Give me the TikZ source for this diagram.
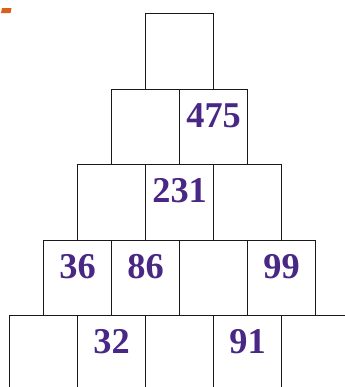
\documentclass[tikz,border=0pt]{standalone}
\usepackage{xcolor}
\usepackage{fontspec}
\setmainfont{Liberation Serif}
\usepackage{tikz}
\usetikzlibrary{calc}

\definecolor{numpurple}{RGB}{72,40,132}
\definecolor{markorange}{RGB}{214,96,28}

\begin{document}
\begin{tikzpicture}[
  x=0.03cm, y=-0.03cm,
  cell/.style={draw=black!90, line width=1pt, anchor=north west, inner sep=0pt,
               minimum width=2.04cm, minimum height=2.265cm},
  num/.style={text=numpurple, font=\fontsize{31}{31}\selectfont\bfseries, inner sep=0pt}
]
  \useasboundingbox (0,0) rectangle (345,387);
  \clip (0,0) rectangle (345,387);

  % small orange mark, top left
  \fill[markorange] (2,8) -- (11.5,8) -- (10.5,13) -- (1,13) -- cycle;

  % rows of the pyramid
  \foreach \r in {0,...,4} {
    \foreach \c in {0,...,\r} {
      \node[cell] (b-\r-\c) at ({145-34*\r+68*\c},{13+75.5*\r}) {};
    }
  }

  % given numbers
  \foreach \r/\c/\v in {1/1/475, 2/1/231, 3/0/36, 3/1/86, 3/3/99, 4/1/32, 4/3/91}
    \node[num] (v-\r-\c) at ($(b-\r-\c.north)!0.35!(b-\r-\c.south)$) {\v};
\end{tikzpicture}
\end{document}
